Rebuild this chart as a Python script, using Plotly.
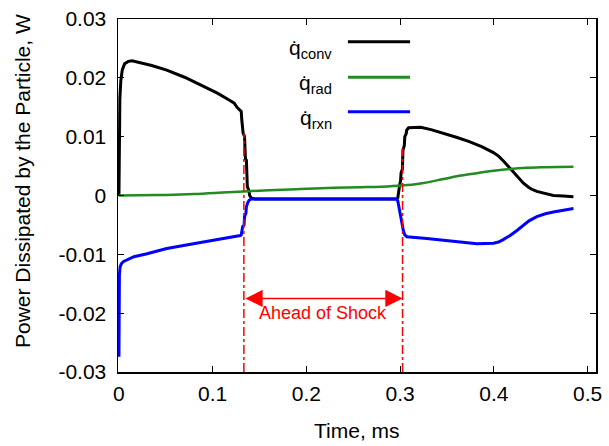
import plotly.graph_objects as go

# ---------------- data ----------------
t_conv = [0, 0.0003, 0.001, 0.002, 0.0035, 0.006, 0.01, 0.014, 0.02, 0.035, 0.051,
          0.07, 0.087, 0.105, 0.118, 0.123, 0.126, 0.128, 0.1305, 0.131, 0.1315,
          0.1325, 0.134, 0.1345, 0.135, 0.136, 0.1365, 0.137, 0.1385, 0.1395,
          0.141, 0.145, 0.2, 0.296, 0.2975, 0.298, 0.2995, 0.3005, 0.301, 0.3025,
          0.303, 0.3045, 0.305, 0.3065, 0.307, 0.309, 0.315, 0.322, 0.333, 0.3463,
          0.36, 0.3731, 0.387, 0.3996, 0.405, 0.41, 0.4174, 0.425, 0.4316, 0.437,
          0.44, 0.4458, 0.455, 0.4635, 0.474, 0.4849]
q_conv = [0.0, 0.010, 0.0165, 0.0195, 0.0213, 0.0224, 0.0228, 0.0229, 0.0227, 0.0221,
          0.0213, 0.0201, 0.0188, 0.0174, 0.0162, 0.0157, 0.0150, 0.0146, 0.0143,
          0.0130, 0.0118, 0.0106, 0.0100, 0.0080, 0.0062, 0.0060, 0.0040, 0.0015,
          0.0009, 0.0000, -0.0004, -0.0006, -0.0006, -0.0006, -0.0004, 0.0005,
          0.0018, 0.0025, 0.0038, 0.0045, 0.0077, 0.0085, 0.0100, 0.0105, 0.0111,
          0.0115, 0.0116, 0.0116, 0.0112, 0.0106, 0.0099, 0.0092, 0.0083, 0.0073,
          0.0067, 0.0059, 0.0046, 0.0032, 0.0021, 0.0014, 0.0011, 0.0007, 0.0003,
          0.0000, -0.0001, -0.0002]

t_rad = [0, 0.02, 0.05, 0.08, 0.11, 0.133, 0.16, 0.1935, 0.23, 0.2575, 0.28, 0.302,
         0.32, 0.3463, 0.365, 0.3819, 0.40, 0.4174, 0.435, 0.4529, 0.4849]
q_rad = [0.0, 0.00003, 0.0001, 0.00025, 0.0005, 0.0007, 0.0009, 0.0011, 0.0013,
         0.0014, 0.0015, 0.0017, 0.0020, 0.0028, 0.0034, 0.0038, 0.0042, 0.0045,
         0.0047, 0.0048, 0.0049]

t_rxn = [0, 0.0002, 0.0005, 0.0012, 0.0025, 0.005, 0.012, 0.016, 0.03, 0.051, 0.087,
         0.1225, 0.1295, 0.1305, 0.131, 0.132, 0.1335, 0.134, 0.1355, 0.136, 0.1375,
         0.139, 0.1415, 0.2, 0.296, 0.2975, 0.2985, 0.2995, 0.3005, 0.3015, 0.3025,
         0.3035, 0.305, 0.3072, 0.3285, 0.3463, 0.3635, 0.3819, 0.3996, 0.405,
         0.41, 0.4174, 0.425, 0.4316, 0.4375, 0.4458, 0.455, 0.4635, 0.474, 0.4849]
q_rxn = [-0.0274, -0.018, -0.0135, -0.0122, -0.0116, -0.0112, -0.0106, -0.0104,
         -0.0099, -0.0090, -0.0080, -0.0071, -0.0068, -0.0067, -0.0060, -0.0053,
         -0.0050, -0.0036, -0.0030, -0.0019, -0.0012, -0.0008, -0.0006, -0.0006,
         -0.0006, -0.0009, -0.0018, -0.0020, -0.0036, -0.0040, -0.0053, -0.0060,
         -0.0067, -0.0070, -0.0073, -0.0076, -0.0080, -0.0082, -0.0081, -0.0079,
         -0.0075, -0.0068, -0.0059, -0.0050, -0.0043, -0.0036, -0.0031, -0.0028,
         -0.0025, -0.0022]

shock_start = 0.1333
shock_end = 0.3026
shock_top = [0.0106, 0.0080]
arrow_level = -0.0175
region_label = "Ahead of Shock"

series_names = ["q̇<sub>conv</sub>", "q̇<sub>rad</sub>", "q̇<sub>rxn</sub>"]
series_colors = ["#000000", "#228B22", "#0000FF"]

x_ticks = [0, 0.1, 0.2, 0.3, 0.4, 0.5]
x_ticklabels = ["0", "0.1", "0.2", "0.3", "0.4", "0.5"]
y_ticks = [-0.03, -0.02, -0.01, 0, 0.01, 0.02, 0.03]
y_ticklabels = ["-0.03", "-0.02", "-0.01", "0", "0.01", "0.02", "0.03"]

FONT = "Liberation Sans, Arial, Helvetica, sans-serif"

fig = go.Figure()
for tx, qy, c, w, shp in [(t_conv, q_conv, series_colors[0], 3, "linear"),
                          (t_rad, q_rad, series_colors[1], 2.5, "spline"),
                          (t_rxn, q_rxn, series_colors[2], 3, "linear")]:
    fig.add_trace(go.Scatter(x=tx, y=qy, mode="lines",
                             line=dict(color=c, width=w, shape=shp),
                             showlegend=False, hoverinfo="skip"))

# shock boundary lines
for xs, top in zip([shock_start, shock_end], shock_top):
    fig.add_shape(type="line", xref="x", yref="y", x0=xs, x1=xs, y0=-0.03, y1=top,
                  line=dict(color="red", width=1.5, dash="dashdot"), layer="above")

# double arrow
fig.add_annotation(x=shock_end, y=arrow_level, ax=shock_start, ay=arrow_level,
                   xref="x", yref="y", axref="x", ayref="y", text="",
                   showarrow=True, arrowside="end+start", arrowhead=2,
                   arrowsize=2.3, arrowwidth=1.5, arrowcolor="red",
                   standoff=0, startstandoff=0)
fig.add_annotation(x=(shock_start + shock_end) / 2, y=-0.0200, xref="x", yref="y",
                   text=region_label, showarrow=False,
                   xanchor="center", yanchor="middle",
                   font=dict(family=FONT, size=18, color="red"))

# manual key (text left of line, like the reference)
key_y = [0.9357, 0.8348, 0.7374]
for name, c, ky in zip(series_names, series_colors, key_y):
    fig.add_shape(type="line", xref="paper", yref="paper", x0=0.481, x1=0.611,
                  y0=ky, y1=ky, line=dict(color=c, width=3))
    fig.add_annotation(x=0.452, y=ky - 0.02, xref="paper", yref="paper", text=name,
                       showarrow=False, xanchor="right", yanchor="middle",
                       font=dict(family=FONT, size=21, color="black"))

# axis titles
fig.add_annotation(x=-0.2008, y=0.541, xref="paper", yref="paper",
                   text="Power Dissipated by the Particle, W", textangle=-90,
                   xanchor="center", yanchor="middle",
                   showarrow=False, font=dict(family=FONT, size=21, color="black"))
fig.add_annotation(x=0.5, y=-0.165, xref="paper", yref="paper", text="Time, ms",
                   xanchor="center", yanchor="middle",
                   showarrow=False, font=dict(family=FONT, size=21, color="black"))

axis_common = dict(showline=True, linecolor="black", linewidth=1.5, mirror="ticks",
                   ticks="inside", ticklen=6, tickwidth=1.2, tickcolor="black",
                   showgrid=False, zeroline=False, automargin=False,
                   tickfont=dict(family=FONT, size=21, color="black"))
fig.update_xaxes(range=[-0.001, 0.509], tickvals=x_ticks, ticktext=x_ticklabels,
                 ticklabelstandoff=2, **axis_common)
fig.update_yaxes(range=[-0.03, 0.03], tickvals=y_ticks, ticktext=y_ticklabels,
                 ticklabelstandoff=6, **axis_common)

fig.update_layout(width=609, height=446, margin=dict(l=118, r=13, t=19, b=74),
                  paper_bgcolor="white", plot_bgcolor="white", showlegend=False)

fig.write_html("out.html", config={"displayModeBar": False, "staticPlot": True},
               post_script="document.body.style.margin='0';"
                           "document.body.style.overflow='hidden';")
